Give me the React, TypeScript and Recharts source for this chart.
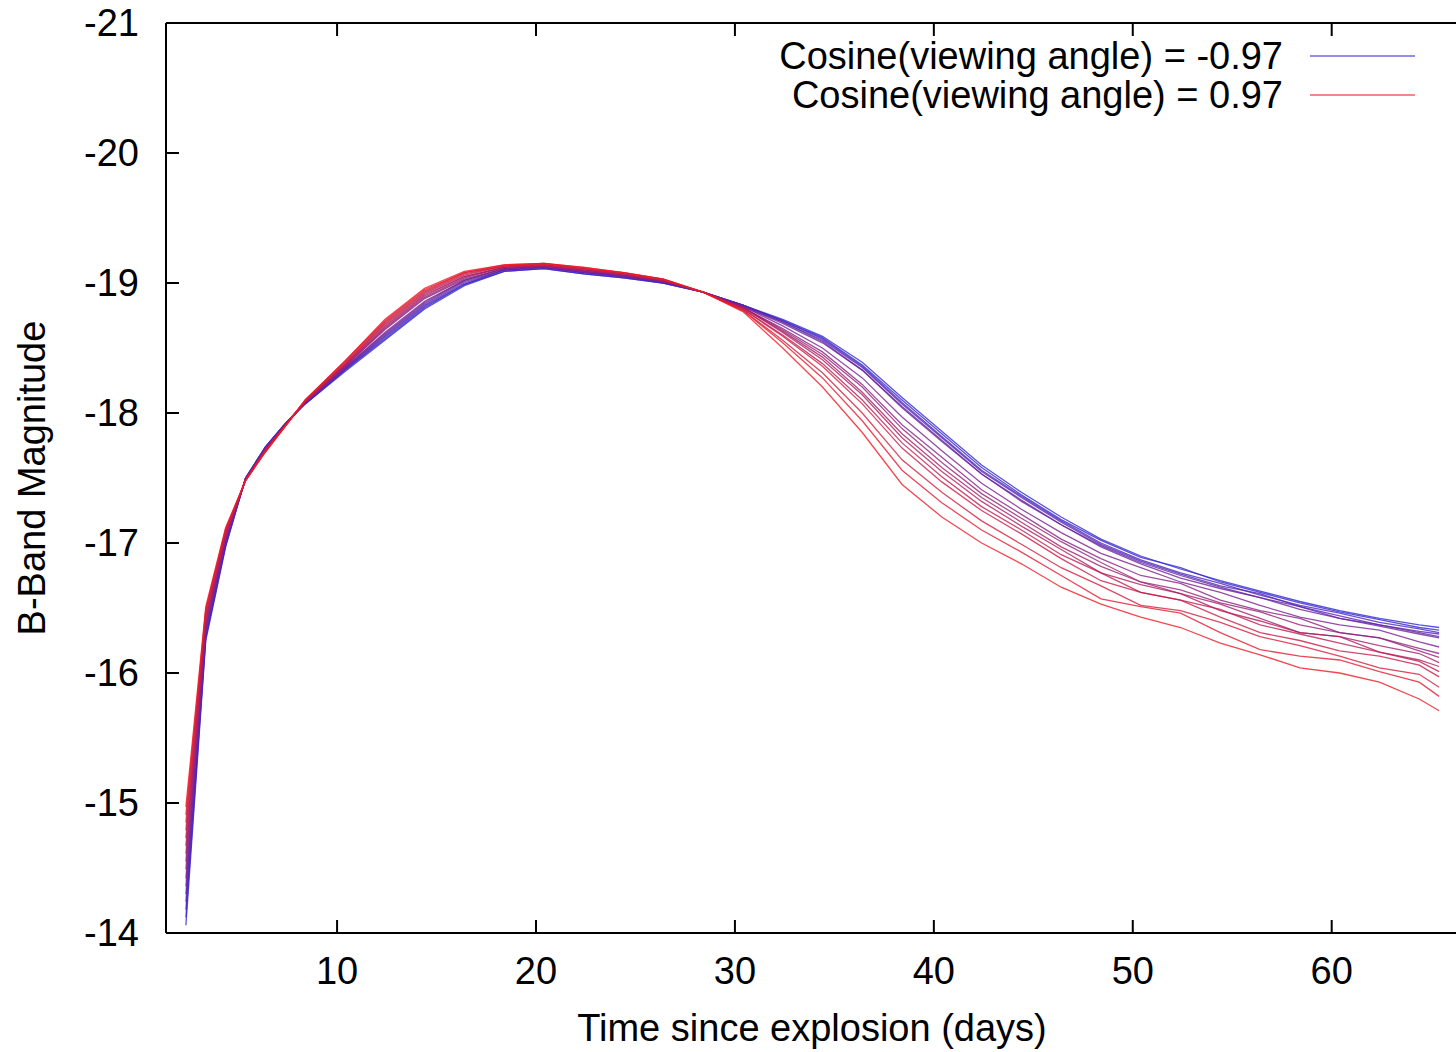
import { LineChart, Line, XAxis, YAxis, Legend } from "recharts"

// time since explosion (days)
const days = [2.4, 3.4, 4.4, 5.4, 6.4, 7.4, 8.4, 10.4, 12.4, 14.4, 16.4, 18.4, 20.4, 22.4, 24.4, 26.4, 28.4, 30.4, 32.4, 34.4, 36.4, 38.4, 40.4, 42.4, 44.4, 46.4, 48.4, 50.4, 52.4, 54.4, 56.4, 58.4, 60.4, 62.4, 64.4, 65.4]

// B-band magnitude, one array per viewing angle, from cos = -0.97 (blue) to cos = 0.97 (red)
const curve00 = [-14.06, -16.25, -16.97, -17.50, -17.74, -17.92, -18.07, -18.32, -18.56, -18.80, -18.98, -19.09, -19.11, -19.07, -19.04, -19.00, -18.93, -18.83, -18.72, -18.59, -18.39, -18.12, -17.86, -17.60, -17.39, -17.20, -17.03, -16.90, -16.80, -16.71, -16.63, -16.55, -16.48, -16.42, -16.37, -16.35]
const curve01 = [-14.12, -16.27, -16.98, -17.50, -17.74, -17.92, -18.07, -18.33, -18.57, -18.81, -18.99, -19.09, -19.11, -19.07, -19.04, -19.00, -18.93, -18.83, -18.71, -18.58, -18.37, -18.10, -17.84, -17.58, -17.37, -17.18, -17.02, -16.89, -16.81, -16.70, -16.62, -16.54, -16.47, -16.41, -16.35, -16.33]
const curve02 = [-14.18, -16.28, -16.99, -17.50, -17.74, -17.92, -18.07, -18.33, -18.58, -18.82, -18.99, -19.10, -19.12, -19.08, -19.05, -19.00, -18.93, -18.83, -18.71, -18.57, -18.36, -18.08, -17.82, -17.56, -17.36, -17.17, -17.00, -16.87, -16.77, -16.69, -16.60, -16.52, -16.46, -16.39, -16.34, -16.31]
const curve03 = [-14.24, -16.30, -17.00, -17.50, -17.73, -17.92, -18.08, -18.34, -18.59, -18.83, -19.00, -19.10, -19.12, -19.08, -19.05, -19.01, -18.93, -18.83, -18.70, -18.56, -18.35, -18.07, -17.81, -17.55, -17.35, -17.16, -16.99, -16.86, -16.76, -16.67, -16.61, -16.51, -16.44, -16.37, -16.32, -16.30]
const curve04 = [-14.30, -16.32, -17.01, -17.49, -17.73, -17.91, -18.08, -18.34, -18.60, -18.84, -19.01, -19.10, -19.12, -19.08, -19.05, -19.01, -18.93, -18.82, -18.70, -18.55, -18.33, -18.05, -17.79, -17.53, -17.33, -17.14, -16.98, -16.85, -16.75, -16.66, -16.58, -16.51, -16.42, -16.37, -16.31, -16.28]
const curve05 = [-14.36, -16.34, -17.02, -17.49, -17.73, -17.91, -18.08, -18.35, -18.61, -18.85, -19.02, -19.11, -19.12, -19.09, -19.05, -19.01, -18.93, -18.82, -18.69, -18.54, -18.33, -18.04, -17.78, -17.53, -17.32, -17.14, -16.97, -16.84, -16.73, -16.65, -16.58, -16.49, -16.42, -16.36, -16.30, -16.27]
const curve06 = [-14.42, -16.35, -17.03, -17.49, -17.72, -17.91, -18.08, -18.35, -18.62, -18.86, -19.02, -19.11, -19.13, -19.09, -19.06, -19.01, -18.93, -18.82, -18.67, -18.50, -18.27, -17.97, -17.71, -17.46, -17.26, -17.08, -16.92, -16.81, -16.70, -16.62, -16.52, -16.43, -16.37, -16.33, -16.24, -16.20]
const curve07 = [-14.49, -16.37, -17.04, -17.49, -17.72, -17.91, -18.08, -18.36, -18.64, -18.88, -19.03, -19.11, -19.13, -19.09, -19.06, -19.01, -18.93, -18.81, -18.65, -18.47, -18.22, -17.91, -17.66, -17.41, -17.22, -17.03, -16.88, -16.75, -16.69, -16.56, -16.48, -16.42, -16.31, -16.27, -16.19, -16.15]
const curve08 = [-14.55, -16.39, -17.05, -17.49, -17.72, -17.91, -18.09, -18.36, -18.65, -18.89, -19.04, -19.12, -19.13, -19.10, -19.06, -19.02, -18.93, -18.81, -18.64, -18.45, -18.20, -17.88, -17.62, -17.38, -17.19, -17.01, -16.85, -16.70, -16.64, -16.54, -16.47, -16.37, -16.31, -16.27, -16.17, -16.12]
const curve09 = [-14.61, -16.41, -17.06, -17.49, -17.72, -17.91, -18.09, -18.37, -18.66, -18.90, -19.05, -19.12, -19.13, -19.10, -19.06, -19.02, -18.93, -18.81, -18.63, -18.43, -18.16, -17.84, -17.58, -17.35, -17.16, -16.97, -16.82, -16.70, -16.61, -16.53, -16.42, -16.31, -16.28, -16.21, -16.15, -16.08]
const curve10 = [-14.67, -16.42, -17.07, -17.49, -17.71, -17.91, -18.09, -18.37, -18.67, -18.91, -19.05, -19.12, -19.14, -19.10, -19.07, -19.02, -18.93, -18.81, -18.62, -18.41, -18.14, -17.81, -17.55, -17.32, -17.13, -16.95, -16.77, -16.68, -16.61, -16.48, -16.40, -16.31, -16.28, -16.16, -16.10, -16.05]
const curve11 = [-14.73, -16.44, -17.08, -17.49, -17.71, -17.91, -18.09, -18.38, -18.68, -18.92, -19.06, -19.13, -19.14, -19.11, -19.07, -19.02, -18.93, -18.80, -18.60, -18.38, -18.10, -17.77, -17.51, -17.28, -17.10, -16.91, -16.77, -16.62, -16.56, -16.49, -16.37, -16.30, -16.23, -16.16, -16.09, -16.01]
const curve12 = [-14.79, -16.46, -17.09, -17.48, -17.71, -17.90, -18.09, -18.38, -18.69, -18.93, -19.07, -19.13, -19.14, -19.11, -19.07, -19.02, -18.93, -18.80, -18.59, -18.36, -18.07, -17.73, -17.47, -17.25, -17.07, -16.88, -16.71, -16.62, -16.56, -16.43, -16.31, -16.25, -16.17, -16.13, -16.06, -15.97]
const curve13 = [-14.85, -16.48, -17.10, -17.48, -17.71, -17.90, -18.10, -18.39, -18.70, -18.94, -19.08, -19.13, -19.15, -19.11, -19.08, -19.03, -18.93, -18.79, -18.56, -18.31, -18.00, -17.64, -17.39, -17.17, -16.99, -16.81, -16.67, -16.52, -16.48, -16.39, -16.28, -16.21, -16.13, -16.04, -15.99, -15.89]
const curve14 = [-14.91, -16.49, -17.11, -17.48, -17.70, -17.90, -18.10, -18.40, -18.71, -18.95, -19.08, -19.14, -19.15, -19.12, -19.08, -19.03, -18.93, -18.79, -18.54, -18.27, -17.94, -17.56, -17.31, -17.10, -16.93, -16.75, -16.57, -16.51, -16.46, -16.31, -16.18, -16.13, -16.10, -16.01, -15.93, -15.82]
const curve15 = [-14.97, -16.51, -17.12, -17.48, -17.70, -17.90, -18.10, -18.40, -18.72, -18.96, -19.09, -19.14, -19.15, -19.12, -19.08, -19.03, -18.93, -18.78, -18.50, -18.20, -17.85, -17.45, -17.20, -17.00, -16.84, -16.66, -16.53, -16.43, -16.35, -16.23, -16.14, -16.04, -16.00, -15.93, -15.80, -15.71]

const curves = [curve00, curve01, curve02, curve03, curve04, curve05, curve06, curve07, curve08, curve09, curve10, curve11, curve12, curve13, curve14, curve15]

const xTicks = [10, 20, 30, 40, 50, 60]
const yTicks = [-21, -20, -19, -18, -17, -16, -15, -14]
const legendLabels = ["Cosine(viewing angle) = -0.97", "Cosine(viewing angle) = 0.97"]

const FONT = "'Liberation Sans', Arial, Helvetica, sans-serif"
const BLUE = [45, 40, 215]
const RED = [240, 25, 35]

function colorAt(i: number) {
  const t = i / (curves.length - 1)
  const c = BLUE.map((b, k) => Math.round(b + (RED[k] - b) * t))
  return `rgb(${c[0]},${c[1]},${c[2]})`
}

const data = days.map((day, k) => {
  const row: Record<string, number> = { day }
  curves.forEach((c, i) => {
    row[`c${i}`] = c[k]
  })
  return row
})

const TICK = 13

function BottomTick({ x, y, payload }: any) {
  return (
    <g>
      <line x1={x} x2={x} y1={y} y2={y - TICK} stroke="#000" strokeWidth={2} />
      <text x={x} y={y + 38} textAnchor="middle" dominantBaseline="central" fontSize={38} fontFamily={FONT} fill="#000">
        {payload.value}
      </text>
    </g>
  )
}

function TopTick({ x, y }: any) {
  return <line x1={x} x2={x} y1={y} y2={y + TICK} stroke="#000" strokeWidth={2} />
}

function LeftTick({ x, y, payload }: any) {
  return (
    <g>
      <line x1={x} x2={x + TICK} y1={y} y2={y} stroke="#000" strokeWidth={2} />
      <text x={x - 27} y={y} textAnchor="end" dominantBaseline="central" fontSize={38} fontFamily={FONT} fill="#000">
        {payload.value}
      </text>
    </g>
  )
}

function RightTick({ x, y }: any) {
  return <line x1={x} x2={x - TICK} y1={y} y2={y} stroke="#000" strokeWidth={2} />
}

function LegendBox() {
  const colors = [colorAt(0), colorAt(curves.length - 1)]
  return (
    <svg width={740} height={100} style={{ display: "block" }}>
      {legendLabels.map((label, i) => (
        <g key={label}>
          <text x={583} y={34 + i * 39} textAnchor="end" dominantBaseline="central" fontSize={38} fontFamily={FONT} fill="#000">
            {label}
          </text>
          <line x1={610} x2={715} y1={34 + i * 39} y2={34 + i * 39} stroke={colors[i]} strokeWidth={1.3} strokeOpacity={0.7} />
        </g>
      ))}
    </svg>
  )
}

export default function App() {
  return (
    <div style={{ position: "fixed", left: 0, top: 0, width: 1456, height: 1052, overflow: "hidden", background: "#fff" }}>
      <LineChart width={1470} height={1052} data={data} margin={{ top: 0, right: 0, bottom: 0, left: 0 }}>
        <XAxis
          dataKey="day"
          type="number"
          domain={[1.4, 66.45]}
          ticks={xTicks}
          interval={0}
          height={119}
          tickSize={0}
          tickMargin={0}
          tickLine={false}
          axisLine={{ stroke: "#000", strokeWidth: 2 }}
          tick={<BottomTick />}
          label={{
            content: ({ viewBox }: any) => (
              <text x={viewBox.x + viewBox.width / 2 - 1} y={viewBox.y + 95} textAnchor="middle" dominantBaseline="central" fontSize={38} fontFamily={FONT} fill="#000">
                Time since explosion (days)
              </text>
            ),
          }}
        />
        <XAxis
          xAxisId="top"
          orientation="top"
          dataKey="day"
          type="number"
          domain={[1.4, 66.45]}
          ticks={xTicks}
          interval={0}
          height={23}
          tickSize={0}
          tickMargin={0}
          tickLine={false}
          axisLine={{ stroke: "#000", strokeWidth: 2 }}
          tick={<TopTick />}
        />
        <YAxis
          type="number"
          domain={[-21, -14]}
          reversed
          ticks={yTicks}
          interval={0}
          width={166}
          tickSize={0}
          tickMargin={0}
          tickLine={false}
          axisLine={{ stroke: "#000", strokeWidth: 2 }}
          tick={<LeftTick />}
          label={{
            content: ({ viewBox }: any) => (
              <text
                x={32}
                y={viewBox.y + viewBox.height / 2}
                transform={`rotate(-90, 32, ${viewBox.y + viewBox.height / 2})`}
                textAnchor="middle"
                dominantBaseline="central"
                fontSize={38}
                fontFamily={FONT}
                fill="#000"
              >
                B-Band Magnitude
              </text>
            ),
          }}
        />
        <YAxis
          yAxisId="right"
          orientation="right"
          type="number"
          domain={[-21, -14]}
          reversed
          ticks={yTicks}
          interval={0}
          width={10}
          tickSize={0}
          tickMargin={0}
          tickLine={false}
          axisLine={{ stroke: "#000", strokeWidth: 2 }}
          tick={<RightTick />}
        />
        <Legend
          layout="vertical"
          align="center"
          verticalAlign="middle"
          wrapperStyle={{ left: 700, top: 22, width: 740, height: 100 }}
          content={() => <LegendBox />}
        />
        {curves.map((_, i) => (
          <Line
            key={i}
            type="linear"
            dataKey={`c${i}`}
            stroke={colorAt(i)}
            strokeWidth={1.3}
            strokeOpacity={0.8}
            dot={false}
            activeDot={false}
            isAnimationActive={false}
            legendType="none"
          />
        ))}
      </LineChart>
    </div>
  )
}
